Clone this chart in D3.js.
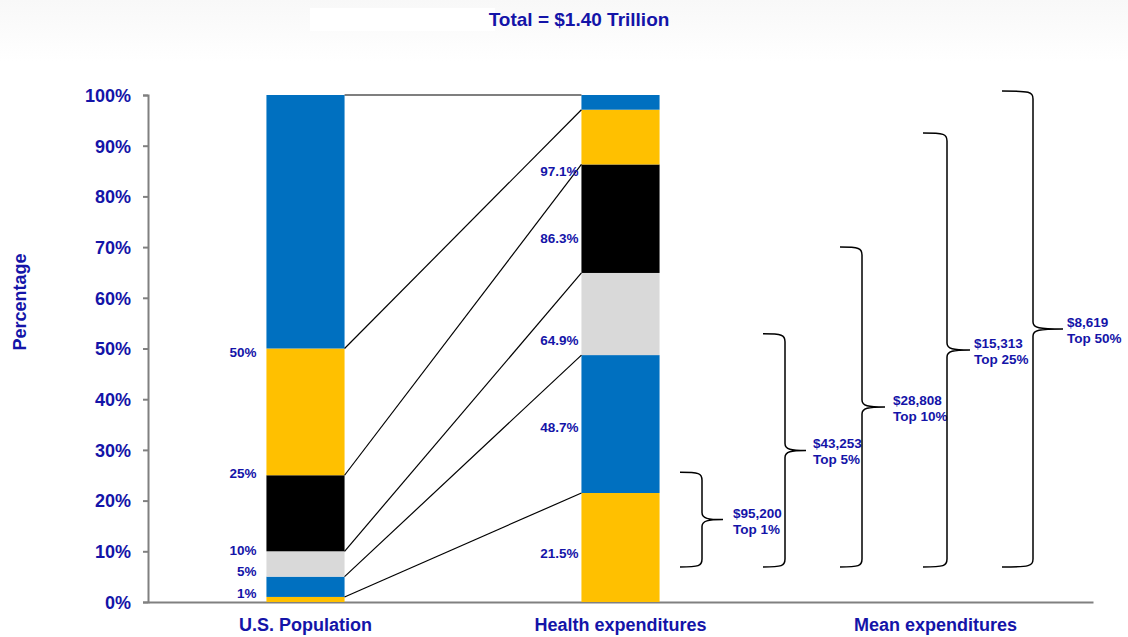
<!DOCTYPE html>
<html>
<head>
<meta charset="utf-8">
<script src="https://cdnjs.cloudflare.com/ajax/libs/d3/7.8.5/d3.min.js"></script>
<style>
  body { margin: 0; background: #fff; }
  svg { display: block; font-family: "Liberation Sans", Arial, sans-serif; }
</style>
</head>
<body>
<div id="chart"></div>
<script>
// data
var columns = ["U.S. Population", "Health expenditures", "Mean expenditures"];
var yTicks = [0, 10, 20, 30, 40, 50, 60, 70, 80, 90, 100];
var popCuts = [0, 1, 5, 10, 25, 50, 100];
var healthCuts = [0, 21.5, 48.7, 64.9, 86.3, 97.1, 100];
var popLabels = ["1%", "5%", "10%", "25%", "50%"];
var healthLabels = ["21.5%", "48.7%", "64.9%", "86.3%", "97.1%"];
var meanValues = ["$95,200", "$43,253", "$28,808", "$15,313", "$8,619"];
var meanGroups = ["Top 1%", "Top 5%", "Top 10%", "Top 25%", "Top 50%"];
var braceTop = [25.6, 52.9, 70.0, 92.5, 100.8];
var braceBottom = 6.9;

// look
var segColors = ["#FFC000", "#0070C0", "#D9D9D9", "#000000", "#FFC000", "#0070C0"];
var textBlue = "#1414a8";
// where the small labels sit (value units)
var popLabelAt = [1.8, 6.1, 10.3, 25.4, 49.3];
var healthLabelAt = [9.7, 34.5, 51.7, 71.8, 85.0];
// brace layout, px relative to the "Mean expenditures" band
var braceLeft = [-98, -15, 62, 145, 224];
var braceArm = [22, 22, 22, 24, 31];
var braceTip = [21, 21, 23, 23, 30];
var braceGap = [10, 7, 8, 4, 4];

var W = 1128, H = 637;
var margin = {top: 95, right: 35, bottom: 35, left: 148};

var svg = d3.select("#chart").append("svg")
    .attr("width", W).attr("height", H);

// faint top band like the slide
var defs = svg.append("defs");
var grad = defs.append("linearGradient").attr("id", "topg")
    .attr("x1", 0).attr("y1", 0).attr("x2", 0).attr("y2", 1);
grad.append("stop").attr("offset", "0%").attr("stop-color", "#f8f8f8");
grad.append("stop").attr("offset", "100%").attr("stop-color", "#ffffff");
svg.append("rect").attr("x", 0).attr("y", 0).attr("width", W).attr("height", 62)
    .attr("fill", "url(#topg)");
svg.append("rect").attr("x", 310).attr("y", 8).attr("width", 185).attr("height", 23)
    .attr("fill", "#fff");

svg.append("text")
    .attr("x", 579).attr("y", 26)
    .attr("text-anchor", "middle")
    .attr("font-size", 19).attr("font-weight", "bold")
    .attr("fill", textBlue)
    .text("Total = $1.40 Trillion");

var x = d3.scaleBand().domain(columns).range([margin.left, W - margin.right]);
var y = d3.scaleLinear().domain([0, 100]).range([H - margin.bottom, margin.top]);
var barW = x.bandwidth() * 0.248;

function barX(col) { return x(col) + x.bandwidth() / 2 - barW / 2; }

// axes
var yAxis = svg.append("g")
    .attr("transform", "translate(" + margin.left + ",0)")
    .call(d3.axisLeft(y).tickValues(yTicks).tickSize(5).tickPadding(12)
        .tickFormat(function(d) { return d + "%"; }));
yAxis.select(".domain").attr("stroke", "#808080").attr("stroke-width", 2);
yAxis.selectAll(".tick line").attr("stroke", "#808080").attr("stroke-width", 2);
yAxis.selectAll(".tick text")
    .attr("font-size", 18).attr("font-weight", "bold")
    .attr("font-family", "Liberation Sans, Arial, sans-serif")
    .attr("fill", textBlue).attr("dy", "0.35em");

var xAxis = svg.append("g")
    .attr("transform", "translate(0," + y(0) + ")")
    .call(d3.axisBottom(x).tickSize(0).tickPadding(16));
xAxis.select(".domain").attr("stroke", "#808080").attr("stroke-width", 2);
xAxis.selectAll(".tick text")
    .attr("font-size", 18).attr("font-weight", "bold")
    .attr("font-family", "Liberation Sans, Arial, sans-serif")
    .attr("fill", textBlue);

svg.append("text")
    .attr("transform", "translate(26," + 302 + ") rotate(-90)")
    .attr("text-anchor", "middle")
    .attr("font-size", 18).attr("font-weight", "bold")
    .attr("fill", textBlue)
    .text("Percentage");

// stacked bars
function segs(cuts) {
    return d3.range(cuts.length - 1).map(function(i) {
        return {y0: cuts[i], y1: cuts[i + 1], i: i};
    });
}

[[columns[0], popCuts], [columns[1], healthCuts]].forEach(function(p) {
    svg.append("g").selectAll("rect")
        .data(segs(p[1]))
        .enter().append("rect")
        .attr("x", barX(p[0]))
        .attr("y", function(d) { return y(d.y1); })
        .attr("width", barW)
        .attr("height", function(d) { return y(d.y0) - y(d.y1); })
        .attr("fill", function(d) { return segColors[d.i]; });
});

// connector lines
var xa = barX(columns[0]) + barW, xb = barX(columns[1]);
svg.append("g").selectAll("line")
    .data(d3.range(1, popCuts.length))
    .enter().append("line")
    .attr("x1", xa).attr("y1", function(i) { return y(popCuts[i]); })
    .attr("x2", xb).attr("y2", function(i) { return y(healthCuts[i]); })
    .attr("stroke", "#000").attr("stroke-width", 1.2);

// percent labels beside bars
svg.append("g").selectAll("text")
    .data(popLabels)
    .enter().append("text")
    .attr("x", barX(columns[0]) - 10)
    .attr("y", function(d, i) { return y(popLabelAt[i]); })
    .attr("dy", "0.35em")
    .attr("text-anchor", "end")
    .attr("font-size", 13.5).attr("font-weight", "bold")
    .attr("fill", textBlue)
    .text(function(d) { return d; });

svg.append("g").selectAll("text")
    .data(healthLabels)
    .enter().append("text")
    .attr("x", barX(columns[1]) - 3)
    .attr("y", function(d, i) { return y(healthLabelAt[i]); })
    .attr("dy", "0.35em")
    .attr("text-anchor", "end")
    .attr("font-size", 13.5).attr("font-weight", "bold")
    .attr("fill", textBlue)
    .text(function(d) { return d; });

// braces for mean expenditures
var mx = x(columns[2]);
function bracePath(x0, xv, xt, top, bot) {
    var mid = (top + bot) / 2;
    return "M" + x0 + "," + top +
        " C" + (xv - 3) + "," + top + " " + xv + "," + (top + 1) + " " + xv + "," + (top + 8) +
        " L" + xv + "," + (mid - 7) +
        " C" + xv + "," + (mid - 1) + " " + (xv + 6) + "," + mid + " " + xt + "," + mid +
        " C" + (xv + 6) + "," + mid + " " + xv + "," + (mid + 1) + " " + xv + "," + (mid + 7) +
        " L" + xv + "," + (bot - 8) +
        " C" + xv + "," + (bot - 1) + " " + (xv - 3) + "," + bot + " " + x0 + "," + bot;
}

var braces = svg.append("g").selectAll("g")
    .data(meanValues)
    .enter().append("g");

braces.append("path")
    .attr("d", function(d, i) {
        var x0 = mx + braceLeft[i], xv = x0 + braceArm[i], xt = xv + braceTip[i];
        return bracePath(x0, xv, xt, y(braceTop[i]), y(braceBottom));
    })
    .attr("fill", "none").attr("stroke", "#000").attr("stroke-width", 1.5);

function labelX(i) { return mx + braceLeft[i] + braceArm[i] + braceTip[i] + braceGap[i]; }
function midY(i) { return (y(braceTop[i]) + y(braceBottom)) / 2; }

braces.append("text")
    .attr("x", function(d, i) { return labelX(i); })
    .attr("y", function(d, i) { return midY(i) - 2; })
    .attr("font-size", 13.5).attr("font-weight", "bold")
    .attr("fill", textBlue)
    .text(function(d) { return d; });

braces.append("text")
    .attr("x", function(d, i) { return labelX(i); })
    .attr("y", function(d, i) { return midY(i) + 14; })
    .attr("font-size", 13.5).attr("font-weight", "bold")
    .attr("fill", textBlue)
    .text(function(d, i) { return meanGroups[i]; });
</script>
</body>
</html>
